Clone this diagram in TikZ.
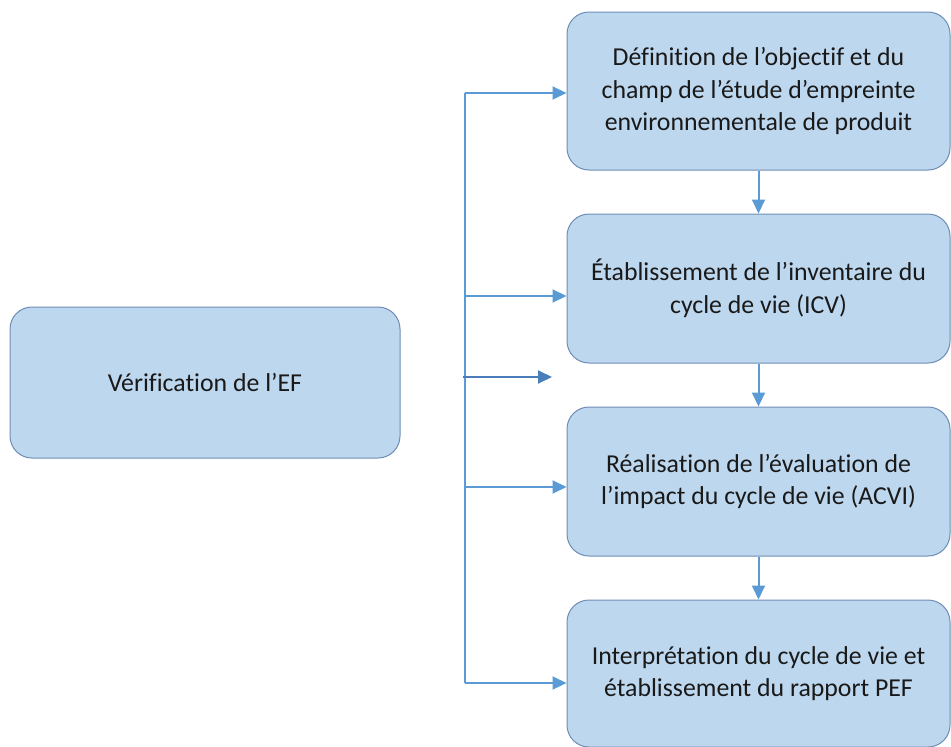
\documentclass[tikz,border=0pt]{standalone}
\usepackage{fontspec}
\setmainfont{Carlito}[Ligatures=NoCommon]
\usetikzlibrary{arrows.meta}
\definecolor{boxfill}{HTML}{BDD7EE}
\definecolor{boxline}{HTML}{6F8DB5}
\definecolor{linkblue}{HTML}{5B9BD5}
\definecolor{linkdark}{HTML}{4A7EBB}
\begin{document}
\begin{tikzpicture}[x=1pt, y=-1pt,
    etape/.style={draw=boxline, fill=boxfill, rounded corners=22pt, line width=1pt,
      minimum width=383pt, minimum height=149pt, align=center, inner sep=0pt,
      font=\fontsize{25.8}{32.5}\selectfont, text=black!90},
    lien/.style={draw=linkblue, line width=2pt, -{Triangle[length=14pt,width=13pt]}}]
  \useasboundingbox (0,0) rectangle (951,747);
  \node[etape, minimum width=390pt, minimum height=151pt] (verif) at (205,382.5) {Vérification de l’EF};
  \node[etape, minimum height=158pt] (def) at (758.5,91) {Définition de l’objectif et du\\champ de l’étude d’empreinte\\environnementale de produit};
  \node[etape] (icv) at (758.5,288.5) {Établissement de l’inventaire du\\cycle de vie (ICV)};
  \node[etape] (acvi) at (758.5,481.5) {Réalisation de l’évaluation de\\l’impact du cycle de vie (ACVI)};
  \node[etape, minimum height=147pt] (pef) at (758.5,673.5) {Interprétation du cycle de vie et\\établissement du rapport PEF};
  \coordinate (haut) at (465,93);
  \coordinate (s2) at (465,296);
  \coordinate (s3) at (465,487);
  \coordinate (bas) at (465,683);
  \coordinate (d0) at (463,377);
  \coordinate (d1) at (552,377);
  \draw[linkblue, line width=2pt] (haut) -- (bas);
  \draw[lien] (haut) -- (haut -| def.west);
  \draw[lien] (s2) -- (s2 -| icv.west);
  \draw[lien] (s3) -- (s3 -| acvi.west);
  \draw[lien] (bas) -- (bas -| pef.west);
  \draw[lien, draw=linkdark] (d0) -- (d1);
  \draw[lien] (def) -- (icv);
  \draw[lien] (icv) -- (acvi);
  \draw[lien] (acvi) -- (pef);
\end{tikzpicture}
\end{document}
